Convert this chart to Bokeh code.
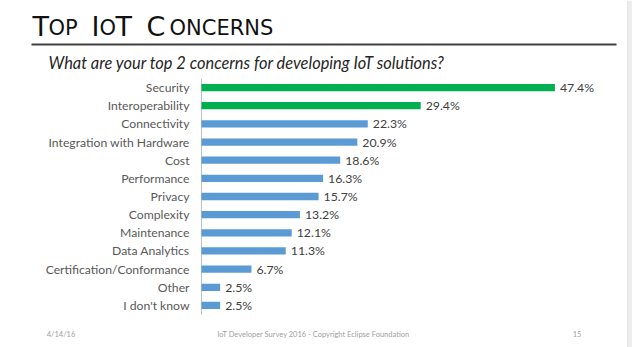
from bokeh.plotting import figure
from bokeh.models import ColumnDataSource, Range1d, BoxAnnotation
from bokeh.core.properties import value
from bokeh.embed import file_html
from bokeh.resources import INLINE

categories = ["Security", "Interoperability", "Connectivity", "Integration with Hardware",
              "Cost", "Performance", "Privacy", "Complexity", "Maintenance",
              "Data Analytics", "Certification/Conformance", "Other", "I don't know"]
percent = [47.4, 29.4, 22.3, 20.9, 18.6, 16.3, 15.7, 13.2, 12.1, 11.3, 6.7, 2.5, 2.5]
highlight_count = 2

title_pieces = ["T", "OP", "I", "O", "T", "C", "ONCERNS"]
title_big = [True, False, True, False, True, True, False]
subtitle = "What are your top 2 concerns for developing IoT solutions?"
footer_date = "4/14/16"
footer_text = "IoT Developer Survey 2016 - Copyright Eclipse Foundation"
footer_page = "15"

GREEN = "#00b050"
BLUE = "#5b9bd5"
n = len(categories)
colors = [GREEN if i < highlight_count else BLUE for i in range(n)]
labels = [f"{v}%" for v in percent]
pos = [n - 1 - i for i in range(n)]

src = ColumnDataSource(dict(cat=categories, val=percent, color=colors, label=labels, pos=pos))

W, H = 632, 347
# pixel layout of the plotting area inside the page
AXIS_X = 201          # canvas x of the value-zero line
PX_PER_UNIT = 7.456   # horizontal scale
ROW_TOP = 78          # canvas y of top of first row
ROW_PX = 18.154       # row pitch

x0 = -AXIS_X / PX_PER_UNIT
x1 = (W - AXIS_X) / PX_PER_UNIT
y_top = (n - 0.5) + ROW_TOP / ROW_PX
y_bot = y_top - H / ROW_PX

def dx(px):
    return x0 + px / PX_PER_UNIT

def dy(py):
    return y_top - py / ROW_PX

p = figure(width=W, height=H, output_backend="svg", toolbar_location=None,
           x_range=Range1d(x0, x1), y_range=Range1d(y_bot, y_top),
           min_border=0, min_border_left=0, min_border_right=0,
           min_border_top=0, min_border_bottom=0)
p.outline_line_color = None
p.background_fill_color = "white"
p.border_fill_color = "white"
p.grid.visible = False
p.axis.visible = False

# axis line
p.segment(x0=[0], y0=[-0.5], x1=[0], y1=[n - 0.5], line_color="#bfbfbf", line_width=1)

p.hbar(y="pos", left=0, right="val", height=0.4, fill_color="color",
       line_color=None, source=src)
p.text(x="val", y="pos", text="label", x_offset=5, text_baseline="middle",
       text_align="left", text_font=value("Lato"), text_font_size="12.3px",
       text_color="#404040", source=src)
p.text(x=0, y="pos", text="cat", x_offset=-12, text_baseline="middle",
       text_align="right", text_font=value("Lato"), text_font_size="12.2px",
       text_color="#595959", source=src)

# Title (small caps built from pieces); y is the x-height middle of each piece
BIG, SMALL = 27, 21
TITLE_BASE = 33
title_px = [32, 48, 91, 99, 115, 146, 169]
tsrc = ColumnDataSource(dict(
    x=[dx(v) for v in title_px],
    y=[dy(TITLE_BASE - 0.273 * (BIG if b else SMALL)) for b in title_big],
    text=title_pieces,
    size=[f"{BIG}px" if b else f"{SMALL}px" for b in title_big]))
p.text(x="x", y="y", text="text", text_font_size="size", text_font=value("DejaVu Sans"),
       text_color="#111111", text_baseline="middle", text_align="left", source=tsrc)

# separator rule
p.add_layout(BoxAnnotation(left=dx(31), right=dx(616), top=dy(43), bottom=dy(45),
                           fill_color="#404040", fill_alpha=1, line_color=None))

p.text(x=[dx(48)], y=[dy(61.5)], text=[subtitle], text_font=value("Lato"),
       text_font_style="italic", text_font_size="16.4px", text_color="#262626",
       text_baseline="middle", text_align="left")

p.text(x=[dx(60.5), dx(313), dx(576.5)], y=[dy(333.5)] * 3,
       text=[footer_date, footer_text, footer_page],
       text_align="center", text_font=value("Lato"),
       text_font_size="7.5px", text_color="#a0a0a0", text_baseline="middle")

# right page edge
p.add_layout(BoxAnnotation(left=dx(627), right=dx(628), top=dy(0), bottom=dy(347),
                           fill_color="#d0d0d0", fill_alpha=1, line_color=None))
p.add_layout(BoxAnnotation(left=dx(628), right=dx(632), top=dy(0), bottom=dy(347),
                           fill_color="#eeeeee", fill_alpha=1, line_color=None))

open("out.html", "w").write(file_html(p, INLINE))
